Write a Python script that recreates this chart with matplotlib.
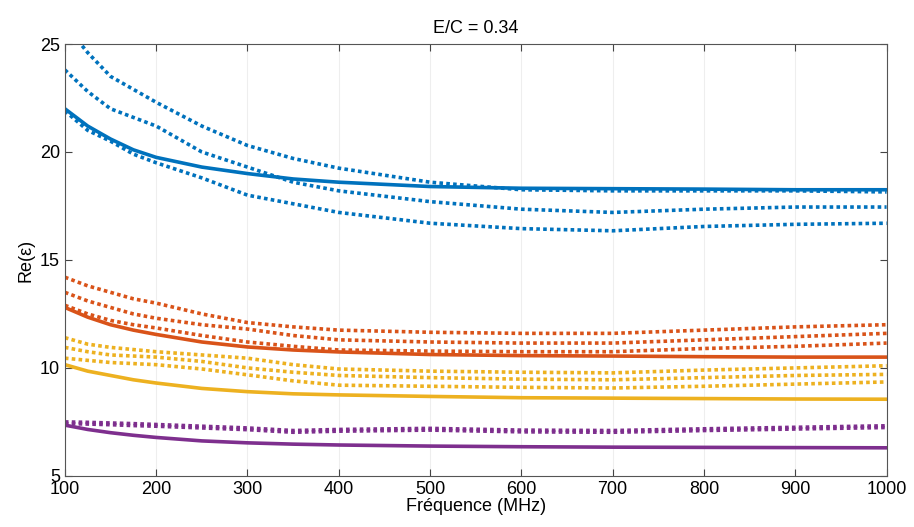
import numpy as np
import matplotlib
matplotlib.use("Agg")
import matplotlib.pyplot as plt

plt.rcParams['font.family'] = ['Liberation Sans Narrow', 'Liberation Sans', 'DejaVu Sans']

# Frequencies (MHz)
freq = [100, 125, 150, 175, 200, 250, 300, 350, 400, 500, 600, 700, 800, 900, 1000]

# Blue group
blue_solid = [22.0, 21.2, 20.6, 20.1, 19.75, 19.3, 19.0, 18.75, 18.6, 18.4, 18.32, 18.3, 18.28, 18.25, 18.25]
blue_dot1 = [25.9, 24.6, 23.5, 22.9, 22.3, 21.2, 20.3, 19.7, 19.25, 18.6, 18.25, 18.2, 18.2, 18.2, 18.15]
blue_dot2 = [23.8, 22.8, 22.0, 21.6, 21.2, 20.0, 19.3, 18.6, 18.2, 17.7, 17.35, 17.2, 17.35, 17.45, 17.45]
blue_dot3 = [21.9, 21.0, 20.5, 19.9, 19.5, 18.8, 18.0, 17.6, 17.2, 16.7, 16.45, 16.35, 16.55, 16.65, 16.7]

# Orange group
orange_solid = [12.8, 12.35, 12.0, 11.75, 11.55, 11.2, 10.97, 10.83, 10.74, 10.62, 10.57, 10.55, 10.52, 10.5, 10.5]
orange_dot1 = [14.2, 13.8, 13.5, 13.2, 13.0, 12.5, 12.1, 11.9, 11.75, 11.65, 11.6, 11.6, 11.75, 11.9, 12.0]
orange_dot2 = [13.5, 13.1, 12.8, 12.5, 12.3, 12.0, 11.8, 11.5, 11.3, 11.2, 11.15, 11.15, 11.3, 11.45, 11.6]
orange_dot3 = [12.9, 12.5, 12.2, 12.0, 11.85, 11.5, 11.2, 11.0, 10.83, 10.78, 10.75, 10.75, 10.9, 11.0, 11.15]

# Yellow group
yellow_solid = [10.15, 9.85, 9.65, 9.45, 9.3, 9.05, 8.9, 8.8, 8.75, 8.68, 8.62, 8.6, 8.58, 8.56, 8.55]
yellow_dot1 = [11.4, 11.1, 10.95, 10.85, 10.75, 10.6, 10.45, 10.15, 9.95, 9.85, 9.8, 9.77, 9.9, 10.0, 10.1]
yellow_dot2 = [10.95, 10.75, 10.6, 10.55, 10.5, 10.3, 10.0, 9.8, 9.65, 9.55, 9.48, 9.45, 9.55, 9.65, 9.7]
yellow_dot3 = [10.45, 10.35, 10.25, 10.2, 10.15, 9.95, 9.68, 9.4, 9.2, 9.15, 9.1, 9.07, 9.15, 9.25, 9.35]

# Purple group
purple_solid = [7.35, 7.15, 7.0, 6.88, 6.78, 6.62, 6.53, 6.47, 6.43, 6.38, 6.35, 6.33, 6.32, 6.31, 6.3]
purple_dot1 = [7.5, 7.48, 7.45, 7.42, 7.38, 7.3, 7.22, 7.1, 7.15, 7.2, 7.12, 7.1, 7.18, 7.25, 7.32]
purple_dot2 = [7.42, 7.4, 7.37, 7.33, 7.3, 7.22, 7.14, 7.02, 7.07, 7.12, 7.04, 7.02, 7.1, 7.17, 7.24]

groups = [
    ('#0072BD', blue_solid, [blue_dot1, blue_dot2, blue_dot3]),
    ('#D95319', orange_solid, [orange_dot1, orange_dot2, orange_dot3]),
    ('#EDB120', yellow_solid, [yellow_dot1, yellow_dot2, yellow_dot3]),
    ('#7E2F8E', purple_solid, [purple_dot1, purple_dot2]),
]

fig = plt.figure(figsize=(9.14, 5.27), dpi=100)
ax = fig.add_axes([0.071, 0.097, 0.899, 0.8195])

for col, solid, dots in groups:
    for d in dots:
        ax.plot(freq, d, color=col, lw=2.6, linestyle=(0, (1, 0.9)))
    ax.plot(freq, solid, color=col, lw=2.6)

ax.set_xlim(100, 1000)
ax.set_ylim(5, 25)
ax.set_xticks(np.arange(100, 1001, 100))
ax.set_yticks([5, 10, 15, 20, 25])
ax.tick_params(direction='in', top=True, right=True, labelsize=13, length=5, color='#444444')
ax.grid(True, axis='x', color='#eeeeee', lw=0.8)
for s in ax.spines.values():
    s.set_color('#555555')
    s.set_linewidth(0.8)

ax.set_xlabel('Fréquence (MHz)', fontsize=13, labelpad=0)
ax.set_ylabel('Re(ε)', fontsize=13, labelpad=4, family=['Liberation Sans', 'DejaVu Sans'])
ax.set_title('E/C = 0.34', fontsize=13, pad=8)

fig.savefig('out.png', dpi=100)
